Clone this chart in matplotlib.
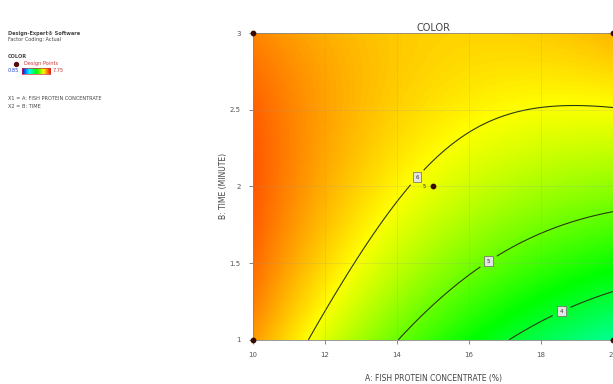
import numpy as np
import matplotlib
matplotlib.use("Agg")
import matplotlib.pyplot as plt
from matplotlib.colors import LinearSegmentedColormap

# ---- data ----
# quadratic response-surface model in coded units A=(x-15)/5, B=(y-2)/1
coef_names = ["Intercept", "A", "B", "AB", "A2", "B2"]
coef_values = [5.87, -0.935, 0.838, 0.766, 0.339, -0.374]
x_range = [10, 20]
y_range = [1, 3]
contour_levels = [4.0, 5.0, 6.0]
color_range = [0.85, 7.75]
design_x = [10, 20, 10, 20, 15]
design_y = [1, 1, 3, 3, 2]
center_reps = "5"
x_ticks = [10, 12, 14, 16, 18, 20]
y_ticks = [1, 1.5, 2, 2.5, 3]
y_tick_labels = ["1", "1.5", "2", "2.5", "3"]

# ---- model surface ----
xs = np.linspace(x_range[0], x_range[1], 300)
ys = np.linspace(y_range[0], y_range[1], 300)
X, Y = np.meshgrid(xs, ys)
A = (X - 15) / 5
B = (Y - 2) / 1
c = dict(zip(coef_names, coef_values))
Z = (c["Intercept"] + c["A"] * A + c["B"] * B + c["AB"] * A * B
     + c["A2"] * A ** 2 + c["B2"] * B ** 2)

cmap = LinearSegmentedColormap.from_list(
    "de", [(0.0, "#0000ff"), (0.25, "#00ffff"), (0.5, "#00ff00"),
           (0.75, "#ffff00"), (1.0, "#ff0000")])

fig = plt.figure(figsize=(6.13, 3.84), dpi=100)
ax = fig.add_axes([0.413, 0.115, 0.587, 0.799])
ax.pcolormesh(X, Y, Z, cmap=cmap, vmin=color_range[0], vmax=color_range[1],
              shading="gouraud", rasterized=True)
cs = ax.contour(X, Y, Z, levels=contour_levels, colors="#2a3a10", linewidths=0.8)
lbls = ax.clabel(cs, fmt="%.0f", fontsize=4, inline=True, inline_spacing=8,
                 manual=[(18.6, 1.17), (16.6, 1.49), (14.5, 2.07)])
for t in lbls:
    t.set_color("#333333")
    t.set_rotation(0)
    t.set_bbox(dict(boxstyle="square,pad=0.45", fc="#e4e4e4", ec="#666666", lw=0.5))

# grid
for xv in x_ticks[1:-1]:
    ax.axvline(xv, color="#999999", lw=0.4, alpha=0.35)
for yv in y_ticks[1:-1]:
    ax.axhline(yv, color="#999999", lw=0.4, alpha=0.35)

ax.scatter(design_x, design_y, s=10, color="#3a0a00", zorder=5, clip_on=False)
ax.text(design_x[-1] - 0.25, design_y[-1], center_reps, fontsize=3.5,
        color="#222222", ha="center", va="center")

ax.set_xlim(x_range)
ax.set_ylim(y_range)
ax.set_xticks(x_ticks)
ax.set_yticks(y_ticks)
ax.set_yticklabels(y_tick_labels)
ax.tick_params(labelsize=5, colors="#555555", length=3, width=0.5, pad=6)
for s in ax.spines.values():
    s.set_color("#888888")
    s.set_linewidth(0.6)
ax.set_title("COLOR", fontsize=7, color="#444444", pad=1)
ax.set_xlabel("A: FISH PROTEIN CONCENTRATE (%)", fontsize=5.5, color="#444444", labelpad=11)
ax.set_ylabel("B: TIME (MINUTE)", fontsize=5.5, color="#444444", labelpad=1)

# left info block
tc = "#444444"
fig.text(8 / 613, 1 - 33 / 384, "Design-Expert\u00ae Software", fontsize=3.6,
         weight="bold", color=tc, va="center")
fig.text(8 / 613, 1 - 40 / 384, "Factor Coding: Actual", fontsize=3.6, color=tc, va="center")
fig.text(8 / 613, 1 - 57 / 384, "COLOR", fontsize=3.6, weight="bold", color=tc, va="center")
fig.text(24 / 613, 1 - 64 / 384, "Design Points", fontsize=3.6, color="#cc3333", va="center")
fig.text(8 / 613, 1 - 71 / 384, f"{color_range[0]:.2f}", fontsize=3.6, color="#2244cc", va="center")
fig.text(53 / 613, 1 - 71 / 384, f"{color_range[1]:.2f}", fontsize=3.6, color="#cc3333", va="center")
fig.text(8 / 613, 1 - 99 / 384, "X1 = A: FISH PROTEIN CONCENTRATE", fontsize=3.6, color=tc, va="center")
fig.text(8 / 613, 1 - 106 / 384, "X2 = B: TIME", fontsize=3.6, color=tc, va="center")
mk = fig.add_axes([12 / 613, 1 - 67 / 384, 8 / 613, 6 / 384])
mk.scatter([0], [0], s=8, color="#5a0a0a")
mk.axis("off")
cb = fig.add_axes([22 / 613, 1 - 74 / 384, 28 / 613, 6 / 384])
cb.imshow(np.linspace(0, 1, 100)[None, :], aspect="auto", cmap=cmap)
cb.set_xticks([]); cb.set_yticks([])
for s in cb.spines.values():
    s.set_color("#cc3333"); s.set_linewidth(0.5)

fig.savefig("out.png", dpi=100)
